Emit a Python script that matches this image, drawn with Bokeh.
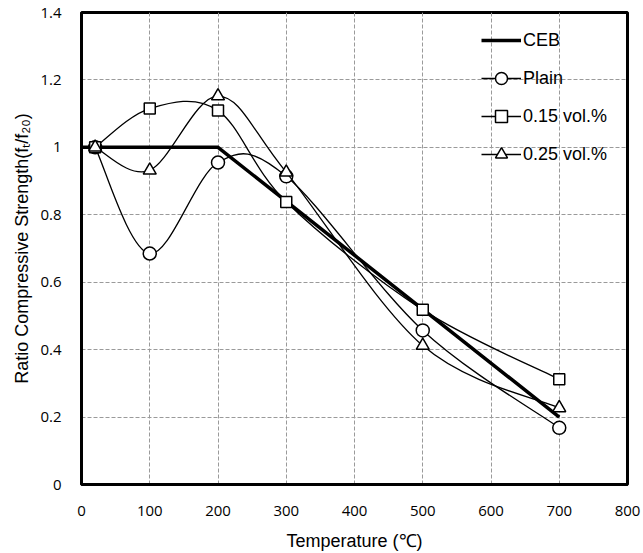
import numpy as np
from bokeh.plotting import figure
from bokeh.models import (Range1d, FixedTicker, CustomJSTickFormatter, Legend, LegendItem,
                          ColumnDataSource)
from bokeh.embed import file_html
from bokeh.resources import INLINE

# ---- data ----
temp = [20, 100, 200, 300, 500, 700]
plain = [1.0, 0.685, 0.955, 0.914, 0.457, 0.168]
vol015 = [1.0, 1.115, 1.109, 0.838, 0.518, 0.312]
vol025 = [1.0, 0.932, 1.152, 0.926, 0.412, 0.227]
ceb_temp = [0, 200, 700]
ceb = [1.0, 1.0, 0.2]
x_ticks = [0, 100, 200, 300, 400, 500, 600, 700, 800]
y_ticks = [0, 0.2, 0.4, 0.6, 0.8, 1.0, 1.2, 1.4]

TICK_FONT = "Open Sans"
LABEL_FONT = "Liberation Sans"

p = figure(width=643, height=553, output_backend="svg", toolbar_location=None,
           x_range=Range1d(0, 800), y_range=Range1d(0, 1.4),
           min_border_left=81, min_border_right=16, min_border_top=12, min_border_bottom=69)
p.background_fill_color = "white"
p.border_fill_color = "white"
p.outline_line_color = "black"
p.outline_line_width = 3

for ax in (p.xaxis[0], p.yaxis[0]):
    ax.axis_line_width = 3
    ax.axis_line_color = "black"
    ax.major_tick_line_color = None
    ax.minor_tick_line_color = None
    ax.major_label_text_font = TICK_FONT
    ax.major_label_text_font_size = "15px"
    ax.major_label_text_color = "black"
    ax.axis_label_text_font = LABEL_FONT
    ax.axis_label_text_font_size = "18px"
    ax.axis_label_text_font_style = "normal"
    ax.axis_label_text_color = "black"

p.xaxis.ticker = FixedTicker(ticks=x_ticks)
p.yaxis.ticker = FixedTicker(ticks=y_ticks)
p.yaxis.formatter = CustomJSTickFormatter(code="return tick.toFixed(1).replace(/\\.0$/, '')")
p.xaxis.axis_label = "Temperature (℃)"
p.yaxis.axis_label = "Ratio Compressive Strength(fₜ/f₂₀)"
p.xaxis.major_label_standoff = 15
p.yaxis.major_label_standoff = 14
p.xaxis.axis_label_standoff = 12
p.yaxis.axis_label_standoff = 5

for g in (p.xgrid[0], p.ygrid[0]):
    g.grid_line_color = "#9a9a9a"
    g.grid_line_dash = "4 2"
    g.grid_line_width = 1


def smooth_segments(xs, ys):
    """Excel-like smoothed curve: cubic Bezier control points from neighbouring data points."""
    P = np.column_stack([xs, ys]).astype(float)
    n = len(P)
    ext = np.vstack([P[0], P, P[-1]])
    d = dict(x0=[], y0=[], x1=[], y1=[], cx0=[], cy0=[], cx1=[], cy1=[])
    for i in range(n - 1):
        pm, p0, p1, p2 = ext[i], ext[i + 1], ext[i + 2], ext[i + 3]
        c0 = p0 + (p1 - pm) / 6.0
        c1 = p1 - (p2 - p0) / 6.0
        d["x0"].append(p0[0]); d["y0"].append(p0[1])
        d["x1"].append(p1[0]); d["y1"].append(p1[1])
        d["cx0"].append(c0[0]); d["cy0"].append(c0[1])
        d["cx1"].append(c1[0]); d["cy1"].append(c1[1])
    return ColumnDataSource(d)


ceb_r = p.line(ceb_temp, ceb, line_color="black", line_width=3.5)

items = [LegendItem(label="CEB", renderers=[ceb_r])]
series = [("Plain", plain, "circle", 13), ("0.15 vol.%", vol015, "square", 11),
          ("0.25 vol.%", vol025, "triangle", 13)]
for name, vals, marker, size in series:
    src = smooth_segments(temp, vals)
    br = p.bezier(x0="x0", y0="y0", x1="x1", y1="y1", cx0="cx0", cy0="cy0",
                  cx1="cx1", cy1="cy1", source=src, line_color="black", line_width=1.3)
    sr = p.scatter(temp, vals, marker=marker, size=size, fill_color="white",
                   line_color="black", line_width=1.5)
    items.append(LegendItem(label=name, renderers=[br, sr]))

legend = Legend(items=items, location=(400, 315))
legend.border_line_color = None
legend.background_fill_alpha = 0
legend.padding = 0
legend.spacing = 8
legend.glyph_width = 40
legend.glyph_height = 30
legend.label_height = 30
legend.label_standoff = 2
legend.label_text_font = LABEL_FONT
legend.label_text_font_size = "18px"
legend.label_text_color = "black"
p.add_layout(legend)

open("out.html", "w").write(file_html(p, INLINE))
